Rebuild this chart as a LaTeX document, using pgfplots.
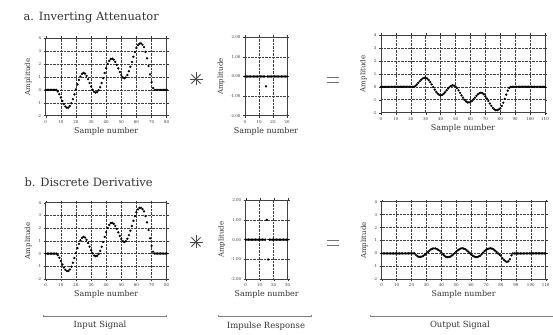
\documentclass[border=0pt]{standalone}
\usepackage{pgfplots}
\pgfplotsset{compat=1.18}
\usepackage{fontspec}
\setmainfont{DejaVu Serif}
\definecolor{ink}{gray}{0.2}
\pgfplotsset{
  dsp/.style={
    scale only axis, anchor=north west,
    axis line style={line width=0.9pt, black!75},
    grid=major,
    major grid style={densely dotted, black!75, line width=0.55pt},
    tick align=outside, major tick length=2pt,
    tick style={black!80, line width=0.4pt},
    /pgf/number format/assume math mode=true,
    tick label style={font=\fontsize{4}{4.5}\selectfont, text=ink},
    label style={font=\fontsize{8}{9}\selectfont, text=ink},
    xlabel={Sample number}, ylabel={Amplitude},
    xlabel style={yshift=3pt},
    ylabel style={yshift=-1pt, font=\fontsize{7}{8}\selectfont},
    xticklabel style={yshift=1pt},
    yticklabel style={xshift=1pt},
    clip=false,
  },
  sig/.style={only marks, mark=*, mark size=0.95pt, black, mark options={draw=black, fill=black}},
  inp/.style={dsp, width=121bp, xmin=0, xmax=80, ymin=-2, ymax=4, xtick={0,10,...,80}, ytick={-2,-1,...,4}},
  imp/.style={dsp, width=42bp, xmin=0, xmax=30, ymin=-2, ymax=2, xtick={0,10,20,30}, ytick={-2,-1,...,2},
    yticklabel={\pgfmathprintnumber[fixed, fixed zerofill, precision=2]{\tick}}},
  outp/.style={dsp, width=164bp, xmin=0, xmax=110, ymin=-2, ymax=4, xtick={0,10,...,110}, ytick={-2,-1,...,4}},
}
\begin{document}
\begin{tikzpicture}
\useasboundingbox (0,0) rectangle (553bp,335bp);
% ---------- a. Inverting Attenuator ----------
\node[anchor=west, font=\fontsize{11.5}{12}\selectfont, text=ink] at (20bp,317.5bp) {a. Inverting Attenuator};
\begin{axis}[inp, at={(45.7bp,296.7bp)}, height=77.4bp]
\addplot[sig] coordinates {(0,0)(1,0)(2,0)(3,0)(4,0)(5,0)(6,0)(7,0)(8,-0.12)(9,-0.33)(10,-0.59)(11,-0.86)(12,-1.10)(13,-1.28)(14,-1.38)(15,-1.37)(16,-1.25)(17,-1.03)(18,-0.72)(19,-0.35)(20,0.04)(21,0.43)(22,0.77)(23,1.04)(24,1.24)(25,1.32)(26,1.26)(27,1.08)(28,0.83)(29,0.54)(30,0.26)(31,0.02)(32,-0.15)(33,-0.21)(34,-0.17)(35,-0.03)(36,0.21)(37,0.53)(38,0.91)(39,1.31)(40,1.68)(41,2.01)(42,2.25)(43,2.39)(44,2.42)(45,2.34)(46,2.17)(47,1.94)(48,1.67)(49,1.39)(50,1.15)(51,0.97)(52,0.90)(53,0.97)(54,1.16)(55,1.45)(56,1.79)(57,2.17)(58,2.57)(59,2.94)(60,3.25)(61,3.47)(62,3.59)(63,3.60)(64,3.50)(65,3.32)(66,2.95)(67,2.45)(68,1.85)(69,1.20)(70,0.60)(71,0.15)(72,0)(73,0)(74,0)(75,0)(76,0)(77,0)(78,0)(79,0)(80,0)};
\end{axis}
\begin{axis}[imp, at={(245bp,297.7bp)}, height=78.4bp]
\addplot[sig] coordinates {(0,0)(1,0)(2,0)(3,0)(4,0)(5,0)(6,0)(7,0)(8,0)(9,0)(10,0)(11,0)(12,0)(13,0)(14,0)(15,-0.5)(16,0)(17,0)(18,0)(19,0)(20,0)(21,0)(22,0)(23,0)(24,0)(25,0)(26,0)(27,0)(28,0)(29,0)(30,0)};
\end{axis}
\begin{axis}[outp, at={(381bp,300bp)}, height=77.7bp]
\addplot[sig] coordinates {(0,0)(1,0)(2,0)(3,0)(4,0)(5,0)(6,0)(7,0)(8,0)(9,0)(10,0)(11,0)(12,0)(13,0)(14,0)(15,0)(16,0)(17,0)(18,0)(19,0)(20,0)(21,0)(22,0)(23,0.06)(24,0.17)(25,0.30)(26,0.43)(27,0.55)(28,0.64)(29,0.69)(30,0.69)(31,0.63)(32,0.52)(33,0.36)(34,0.18)(35,-0.02)(36,-0.22)(37,-0.39)(38,-0.52)(39,-0.62)(40,-0.66)(41,-0.63)(42,-0.54)(43,-0.42)(44,-0.27)(45,-0.13)(46,-0.01)(47,0.08)(48,0.11)(49,0.09)(50,0.02)(51,-0.11)(52,-0.27)(53,-0.46)(54,-0.66)(55,-0.84)(56,-1.01)(57,-1.13)(58,-1.20)(59,-1.21)(60,-1.17)(61,-1.09)(62,-0.97)(63,-0.84)(64,-0.70)(65,-0.58)(66,-0.49)(67,-0.45)(68,-0.49)(69,-0.58)(70,-0.73)(71,-0.90)(72,-1.09)(73,-1.29)(74,-1.47)(75,-1.63)(76,-1.74)(77,-1.80)(78,-1.80)(79,-1.75)(80,-1.66)(81,-1.48)(82,-1.23)(83,-0.93)(84,-0.60)(85,-0.30)(86,-0.08)(87,0)(88,0)(89,0)(90,0)(91,0)(92,0)(93,0)(94,0)(95,0)(96,0)(97,0)(98,0)(99,0)(100,0)(101,0)(102,0)(103,0)(104,0)(105,0)(106,0)(107,0)(108,0)(109,0)(110,0)};
\end{axis}
% ---------- b. Discrete Derivative ----------
\node[anchor=west, font=\fontsize{11.5}{12}\selectfont, text=ink] at (21bp,152.3bp) {b. Discrete Derivative};
\begin{axis}[inp, at={(45.7bp,132.3bp)}, height=76.3bp]
\addplot[sig] coordinates {(0,0)(1,0)(2,0)(3,0)(4,0)(5,0)(6,0)(7,0)(8,-0.12)(9,-0.33)(10,-0.59)(11,-0.86)(12,-1.10)(13,-1.28)(14,-1.38)(15,-1.37)(16,-1.25)(17,-1.03)(18,-0.72)(19,-0.35)(20,0.04)(21,0.43)(22,0.77)(23,1.04)(24,1.24)(25,1.32)(26,1.26)(27,1.08)(28,0.83)(29,0.54)(30,0.26)(31,0.02)(32,-0.15)(33,-0.21)(34,-0.17)(35,-0.03)(36,0.21)(37,0.53)(38,0.91)(39,1.31)(40,1.68)(41,2.01)(42,2.25)(43,2.39)(44,2.42)(45,2.34)(46,2.17)(47,1.94)(48,1.67)(49,1.39)(50,1.15)(51,0.97)(52,0.90)(53,0.97)(54,1.16)(55,1.45)(56,1.79)(57,2.17)(58,2.57)(59,2.94)(60,3.25)(61,3.47)(62,3.59)(63,3.60)(64,3.50)(65,3.32)(66,2.95)(67,2.45)(68,1.85)(69,1.20)(70,0.60)(71,0.15)(72,0)(73,0)(74,0)(75,0)(76,0)(77,0)(78,0)(79,0)(80,0)};
\end{axis}
\begin{axis}[imp, at={(245.7bp,135bp)}, height=79.3bp]
\addplot[sig] coordinates {(0,0)(1,0)(2,0)(3,0)(4,0)(5,0)(6,0)(7,0)(8,0)(9,0)(10,0)(11,0)(12,0)(13,0)(14,0)(15,1)(16,-1)(17,0)(18,0)(19,0)(20,0)(21,0)(22,0)(23,0)(24,0)(25,0)(26,0)(27,0)(28,0)(29,0)(30,0)};
\end{axis}
\begin{axis}[outp, at={(381.7bp,133.3bp)}, height=77.6bp]
\addplot[sig] coordinates {(0,0)(1,0)(2,0)(3,0)(4,0)(5,0)(6,0)(7,0)(8,0)(9,0)(10,0)(11,0)(12,0)(13,0)(14,0)(15,0)(16,0)(17,0)(18,0)(19,0)(20,0)(21,0)(22,0)(23,-0.12)(24,-0.21)(25,-0.26)(26,-0.27)(27,-0.24)(28,-0.18)(29,-0.10)(30,0.01)(31,0.12)(32,0.22)(33,0.31)(34,0.37)(35,0.39)(36,0.39)(37,0.34)(38,0.27)(39,0.20)(40,0.08)(41,-0.06)(42,-0.17)(43,-0.25)(44,-0.29)(45,-0.28)(46,-0.24)(47,-0.17)(48,-0.07)(49,0.03)(50,0.14)(51,0.24)(52,0.32)(53,0.38)(54,0.40)(55,0.37)(56,0.33)(57,0.24)(58,0.14)(59,0.03)(60,-0.08)(61,-0.17)(62,-0.24)(63,-0.28)(64,-0.28)(65,-0.24)(66,-0.18)(67,-0.07)(68,0.07)(69,0.19)(70,0.29)(71,0.34)(72,0.38)(73,0.40)(74,0.37)(75,0.31)(76,0.22)(77,0.12)(78,0.01)(79,-0.10)(80,-0.18)(81,-0.37)(82,-0.50)(83,-0.60)(84,-0.65)(85,-0.60)(86,-0.45)(87,-0.15)(88,0)(89,0)(90,0)(91,0)(92,0)(93,0)(94,0)(95,0)(96,0)(97,0)(98,0)(99,0)(100,0)(101,0)(102,0)(103,0)(104,0)(105,0)(106,0)(107,0)(108,0)(109,0)(110,0)};
\end{axis}
% ---------- operators ----------
\foreach \cy in {256,93} {
  \foreach \ang in {0,45,90,135}
    \draw[black!70, line width=0.8pt] (196bp,\cy bp) ++(\ang:6.5bp) -- ++(\ang+180:13bp);
  }
\foreach \cy in {255,92} {
  \draw[black!55, line width=0.9pt] (327bp,\cy bp+2.2bp) -- (339bp,\cy bp+2.2bp);
  \draw[black!55, line width=0.9pt] (327bp,\cy bp-2.2bp) -- (339bp,\cy bp-2.2bp);
  }
% ---------- brackets ----------
\draw[black!50, line width=0.5pt] (43bp,20bp) -- (43bp,18.3bp) -- (166bp,18.3bp) -- (166bp,20bp);
\draw[black!50, line width=0.5pt] (218bp,20bp) -- (218bp,18.3bp) -- (311.7bp,18.3bp) -- (311.7bp,20bp);
\draw[black!50, line width=0.5pt] (370bp,20bp) -- (370bp,18.3bp) -- (553bp,18.3bp);
\node[font=\fontsize{8.5}{10}\selectfont, text=ink] at (100bp,9.3bp) {Input Signal};
\node[font=\fontsize{8.5}{10}\selectfont, text=ink] at (266bp,9.3bp) {Impulse Response};
\node[font=\fontsize{8.5}{10}\selectfont, text=ink] at (460bp,9.3bp) {Output Signal};
\end{tikzpicture}
\end{document}
